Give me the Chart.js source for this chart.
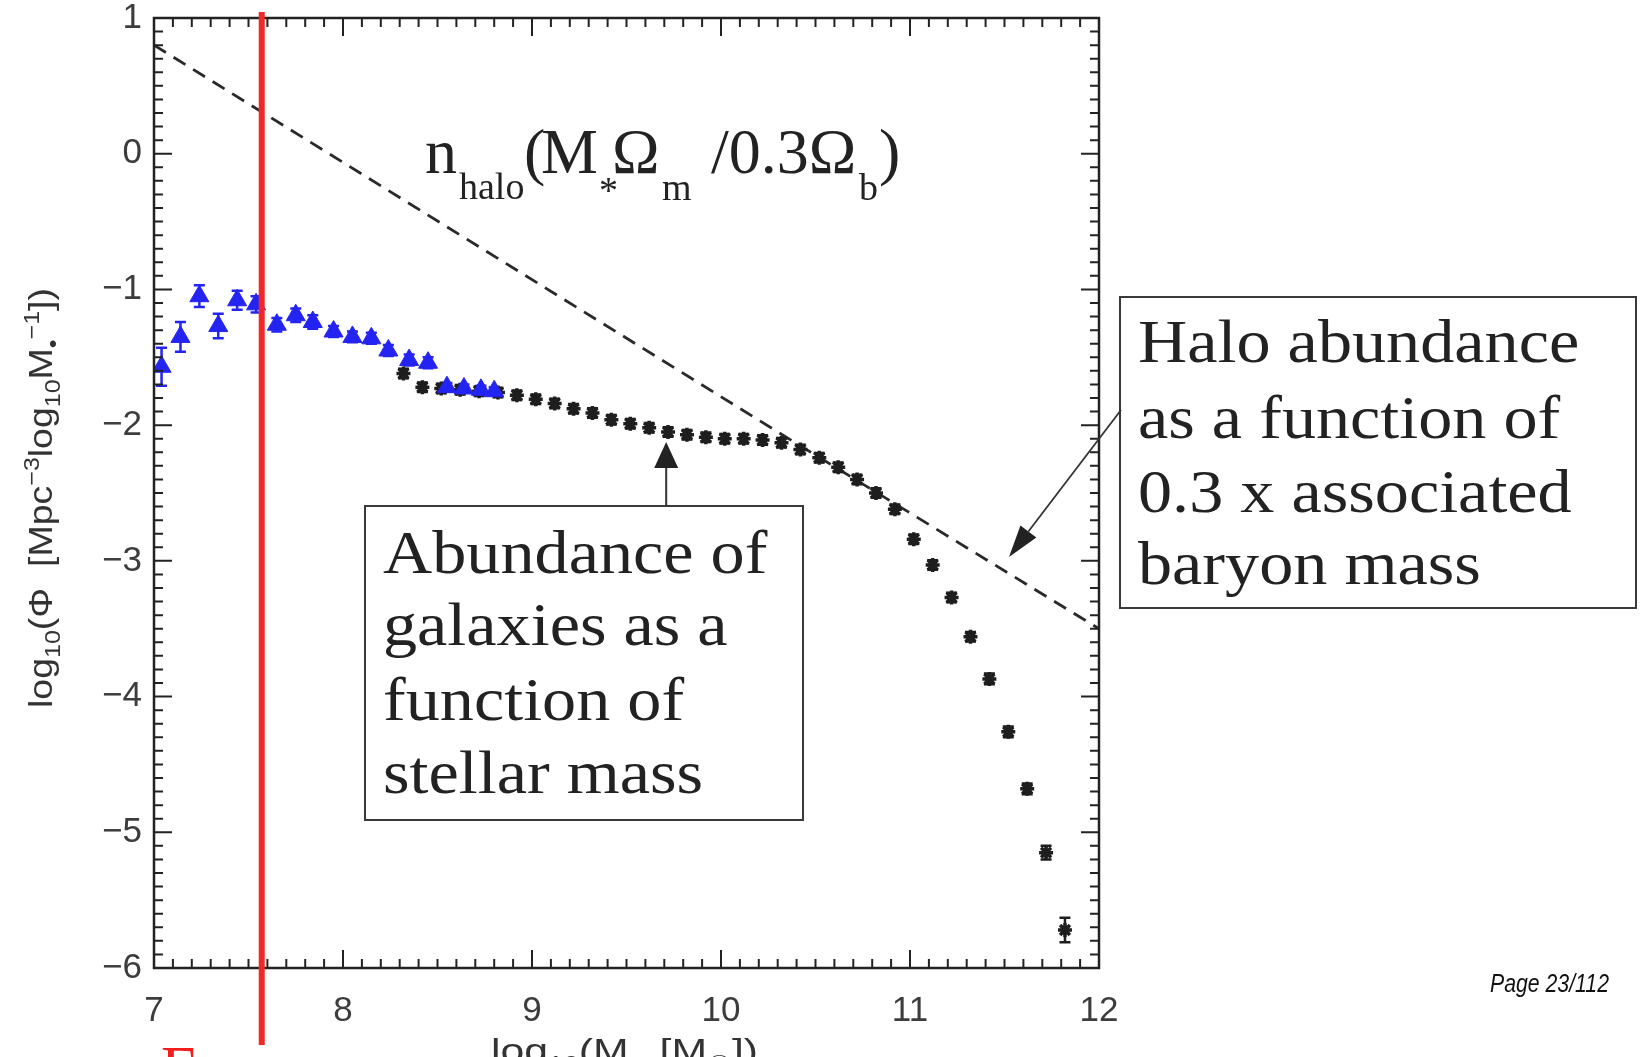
<!DOCTYPE html>
<html>
<head>
<meta charset="utf-8">
<style>
  html, body { margin: 0; padding: 0; background: #fff; overflow: hidden; }
</style>
</head>
<body>
<canvas id="smfChart" width="1645" height="1057"></canvas>

<script src="https://cdn.jsdelivr.net/npm/chart.js@4.4.1/dist/chart.umd.min.js"></script>
<script>
  // galaxy stellar mass function (blue triangles, low-mass sample)
  const blueX   = [7.04, 7.14, 7.24, 7.34, 7.44, 7.54, 7.65, 7.75, 7.84, 7.95, 8.05, 8.15, 8.24, 8.35, 8.45, 8.55, 8.64, 8.73, 8.80];
  const blueY   = [-1.57, -1.35, -1.05, -1.27, -1.08, -1.11, -1.26, -1.19, -1.24, -1.31, -1.35, -1.36, -1.45, -1.52, -1.54, -1.72, -1.73, -1.74, -1.75];
  const blueErr = [0.14, 0.11, 0.08, 0.09, 0.07, 0.06, 0.05, 0.05, 0.05, 0.04, 0.04, 0.04, 0.04, 0.04, 0.04, 0.03, 0.03, 0.03, 0.03];

  // galaxy stellar mass function (black points)
  const blackX = [8.32, 8.42, 8.52, 8.62, 8.72, 8.82, 8.92, 9.02, 9.12, 9.22, 9.32, 9.42, 9.52, 9.62, 9.72, 9.82, 9.92, 10.02,
                  10.12, 10.22, 10.32, 10.42, 10.52, 10.62, 10.72, 10.82, 10.92, 11.02, 11.12, 11.22, 11.32, 11.42, 11.52, 11.62, 11.72, 11.82];
  const blackY = [-1.62, -1.72, -1.73, -1.74, -1.75, -1.76, -1.78, -1.81, -1.84, -1.88, -1.91, -1.96, -1.99, -2.02, -2.05, -2.07, -2.09, -2.10,
                  -2.10, -2.11, -2.13, -2.18, -2.24, -2.31, -2.40, -2.50, -2.62, -2.84, -3.03, -3.27, -3.56, -3.87, -4.26, -4.68, -5.15, -5.72];
  const blackErr = [0.035, 0.035, 0.035, 0.035, 0.035, 0.035, 0.035, 0.035, 0.035, 0.035, 0.035, 0.035, 0.035, 0.035, 0.035, 0.035, 0.035, 0.035,
                    0.035, 0.035, 0.035, 0.035, 0.035, 0.035, 0.035, 0.035, 0.035, 0.035, 0.035, 0.035, 0.035, 0.04, 0.04, 0.04, 0.05, 0.09];

  // halo abundance, dashed line
  const haloX = [7, 10.3, 12];
  const haloY = [0.8, -2.05, -3.5];

  const xTicks = [7, 8, 9, 10, 11, 12];
  const yTicks = [-6, -5, -4, -3, -2, -1, 0, 1];
  const cutMass = 7.57;   // red vertical line

  const serif = '"Liberation Serif", "DejaVu Serif", serif';
  const sans = '"Liberation Sans", "DejaVu Sans", sans-serif';

  function toPoints(xs, ys) {
    return xs.map((v, i) => ({ x: v, y: ys[i] }));
  }

  function drawErrors(ctx, xs, ys, errs, sx, sy, color) {
    ctx.strokeStyle = color;
    ctx.lineWidth = 2.5;
    xs.forEach((v, i) => {
      const px = sx.getPixelForValue(v);
      const top = sy.getPixelForValue(ys[i] + errs[i]);
      const bot = sy.getPixelForValue(ys[i] - errs[i]);
      ctx.beginPath();
      ctx.moveTo(px, top); ctx.lineTo(px, bot);
      ctx.moveTo(px - 5.5, top); ctx.lineTo(px + 5.5, top);
      ctx.moveTo(px - 5.5, bot); ctx.lineTo(px + 5.5, bot);
      ctx.stroke();
    });
  }

  // text made of normal / sub / sup pieces, drawn along +x from the current origin
  function drawPieces(ctx, pieces, family, mainSize, subSize, drop, rise, targetWidth) {
    let total = 0;
    pieces.forEach(p => {
      ctx.font = (p.k === 'n' ? mainSize : subSize) + 'px ' + family;
      total += ctx.measureText(p.t).width;
    });
    ctx.scale(targetWidth / total, 1);
    let x = 0;
    pieces.forEach(p => {
      ctx.font = (p.k === 'n' ? mainSize : subSize) + 'px ' + family;
      const dy = p.k === 'sub' ? drop : (p.k === 'sup' ? -rise : 0);
      ctx.fillText(p.t, x, dy);
      x += ctx.measureText(p.t).width;
    });
  }

  function stretchText(ctx, text, x, y, sx) {
    ctx.save();
    ctx.translate(x, y);
    ctx.scale(sx, 1);
    ctx.fillText(text, 0, 0);
    ctx.restore();
  }

  function textBox(ctx, x1, y1, x2, y2, lines, textX, baselines) {
    ctx.fillStyle = '#fff';
    ctx.fillRect(x1, y1, x2 - x1, y2 - y1);
    ctx.strokeStyle = '#3a3a3a';
    ctx.lineWidth = 2;
    ctx.strokeRect(x1, y1, x2 - x1, y2 - y1);
    ctx.fillStyle = '#222';
    ctx.font = '62px ' + serif;
    ctx.textAlign = 'left';
    ctx.textBaseline = 'alphabetic';
    lines.forEach((t, i) => stretchText(ctx, t, textX, baselines[i], 1.1));
  }

  function arrow(ctx, x1, y1, x2, y2, len, half) {
    const ang = Math.atan2(y2 - y1, x2 - x1);
    const bx = x2 - len * Math.cos(ang), by = y2 - len * Math.sin(ang);
    ctx.beginPath();
    ctx.moveTo(x1, y1); ctx.lineTo(bx, by);
    ctx.stroke();
    ctx.beginPath();
    ctx.moveTo(x2, y2);
    ctx.lineTo(bx + half * Math.sin(ang), by - half * Math.cos(ang));
    ctx.lineTo(bx - half * Math.sin(ang), by + half * Math.cos(ang));
    ctx.closePath();
    ctx.fill();
  }

  const errorBars = {
    id: 'errorBars',
    beforeDatasetsDraw(chart) {
      const { ctx, scales: { x, y } } = chart;
      ctx.save();
      drawErrors(ctx, blackX, blackY, blackErr, x, y, '#1e1e1e');
      drawErrors(ctx, blueX, blueY, blueErr, x, y, '#2424f2');
      ctx.restore();
    }
  };

  const overlay = {
    id: 'overlay',
    afterDraw(chart) {
      const { ctx, chartArea: a, scales: { x, y } } = chart;
      ctx.save();

      // frame and inward ticks on all four sides
      ctx.strokeStyle = '#222';
      ctx.lineWidth = 2.5;
      ctx.strokeRect(a.left, a.top, a.right - a.left, a.bottom - a.top);
      ctx.lineWidth = 2;
      ctx.beginPath();
      for (let i = 70; i <= 120; i++) {
        const px = x.getPixelForValue(i / 10);
        const len = i % 10 === 0 ? 18 : 9;
        ctx.moveTo(px, a.bottom); ctx.lineTo(px, a.bottom - len);
        ctx.moveTo(px, a.top); ctx.lineTo(px, a.top + len);
      }
      for (let i = -60; i <= 10; i++) {
        const py = y.getPixelForValue(i / 10);
        const len = i % 10 === 0 ? 18 : 9;
        ctx.moveTo(a.left, py); ctx.lineTo(a.left + len, py);
        ctx.moveTo(a.right, py); ctx.lineTo(a.right - len, py);
      }
      ctx.stroke();

      // red vertical line
      const rx = x.getPixelForValue(cutMass);
      ctx.strokeStyle = 'rgb(242, 40, 40)';
      ctx.lineWidth = 6;
      ctx.beginPath();
      ctx.moveTo(rx, 12); ctx.lineTo(rx, 1045);
      ctx.stroke();

      // red text clipped at the bottom of the page
      ctx.fillStyle = 'rgb(242, 30, 30)';
      ctx.font = '62px ' + serif;
      ctx.textAlign = 'left';
      ctx.textBaseline = 'alphabetic';
      ctx.fillText('E', 161, 1088);

      // y axis title
      ctx.fillStyle = '#333';
      ctx.save();
      ctx.translate(52, 708);
      ctx.rotate(-Math.PI / 2);
      drawPieces(ctx, [
        { t: 'log', k: 'n' }, { t: '10', k: 'sub' }, { t: '(Φ  [Mpc', k: 'n' }, { t: '−3', k: 'sup' },
        { t: 'log', k: 'n' }, { t: '10', k: 'sub' }, { t: 'M', k: 'n' }, { t: '•', k: 'sub' },
        { t: '−1', k: 'sup' }, { t: '])', k: 'n' }
      ], sans, 33, 22, 8, 13, 420);
      ctx.restore();

      // x axis title (cut by the page edge)
      ctx.save();
      ctx.translate(491, 1062);
      drawPieces(ctx, [
        { t: 'log', k: 'n' }, { t: '10', k: 'sub' }, { t: '(M', k: 'n' }, { t: '∗ ', k: 'sub' },
        { t: '[M', k: 'n' }, { t: '☉', k: 'sub' }, { t: '])', k: 'n' }
      ], sans, 34, 22, 9, 13, 267);
      ctx.restore();

      // n_halo(M* Ωm / 0.3 Ωb)
      ctx.fillStyle = '#222';
      const eq = [
        ['n', 425, 173, 64], ['halo', 459, 199, 38], ['(', 524, 173, 64], ['M', 541, 173, 64],
        ['*', 599, 203, 38], ['Ω', 612, 173, 64], ['m', 662, 200, 38], ['/0.3Ω', 711, 173, 64],
        ['b', 859, 200, 38], [')', 879, 173, 64]
      ];
      eq.forEach(([t, ex, ey, s]) => {
        ctx.font = s + 'px ' + serif;
        ctx.fillText(t, ex, ey);
      });

      // box: abundance of galaxies
      textBox(ctx, 365, 506, 803, 820,
        ['Abundance of', 'galaxies as a', 'function of', 'stellar mass'],
        383, [573, 645, 720, 793]);
      ctx.strokeStyle = '#333';
      ctx.fillStyle = '#222';
      ctx.lineWidth = 2;
      arrow(ctx, x.getPixelForValue(9.71), 506, x.getPixelForValue(9.71), 442, 26, 12);

      // box: halo abundance
      textBox(ctx, 1120, 297, 1636, 608,
        ['Halo abundance', 'as a function of', '0.3 x associated', 'baryon mass'],
        1138, [362, 438, 512, 584]);
      ctx.strokeStyle = '#333';
      ctx.fillStyle = '#222';
      ctx.lineWidth = 1.8;
      arrow(ctx, 1121, 410, 1009, 557, 32, 10);

      // page number
      ctx.fillStyle = '#111';
      ctx.font = 'italic 25px ' + sans;
      stretchText(ctx, 'Page 23/112', 1490, 992, 0.85);

      ctx.restore();
    }
  };

  const ctx = document.getElementById('smfChart');

  new Chart(ctx, {
    type: 'scatter',
    data: {
      datasets: [
        {
          label: 'Galaxies (blue)',
          data: toPoints(blueX, blueY),
          pointStyle: 'triangle',
          pointRadius: 11,
          pointBackgroundColor: '#2424f2',
          pointBorderColor: '#2424f2',
          pointBorderWidth: 1
        },
        {
          label: 'Galaxies (black)',
          data: toPoints(blackX, blackY),
          pointStyle: 'star',
          pointRadius: 7,
          pointBackgroundColor: '#1e1e1e',
          pointBorderColor: '#1e1e1e',
          pointBorderWidth: 3.5
        },
        {
          label: 'n_halo',
          data: toPoints(haloX, haloY),
          showLine: true,
          borderColor: '#2a2a2a',
          borderWidth: 2.8,
          borderDash: [14, 9],
          pointRadius: 0
        }
      ]
    },
    options: {
      responsive: false,
      animation: false,
      devicePixelRatio: 1,
      layout: { padding: { top: 18, right: 546, bottom: 0, left: 0 } },
      plugins: { legend: { display: false }, tooltip: { enabled: false } },
      scales: {
        x: {
          type: 'linear',
          min: 7,
          max: 12,
          afterBuildTicks: axis => { axis.ticks = xTicks.map(v => ({ value: v })); },
          afterFit: axis => { axis.height = 89; axis.paddingLeft = 0; axis.paddingRight = 0; },
          grid: { display: false, drawTicks: false },
          border: { display: false },
          ticks: {
            padding: 26,
            color: '#3c3c3c',
            font: { family: sans, size: 35, lineHeight: 1 },
            maxRotation: 0
          }
        },
        y: {
          type: 'linear',
          min: -6,
          max: 1,
          afterBuildTicks: axis => { axis.ticks = yTicks.map(v => ({ value: v })); },
          afterFit: axis => { axis.width = 154; axis.paddingTop = 0; axis.paddingBottom = 0; },
          grid: { display: false, drawTicks: false },
          border: { display: false },
          ticks: {
            padding: 12,
            color: '#3c3c3c',
            font: { family: sans, size: 35, lineHeight: 1 },
            callback: v => (v < 0 ? '\u2212' + (-v) : String(v))
          }
        }
      }
    },
    plugins: [errorBars, overlay]
  });
</script>
</body>
</html>
